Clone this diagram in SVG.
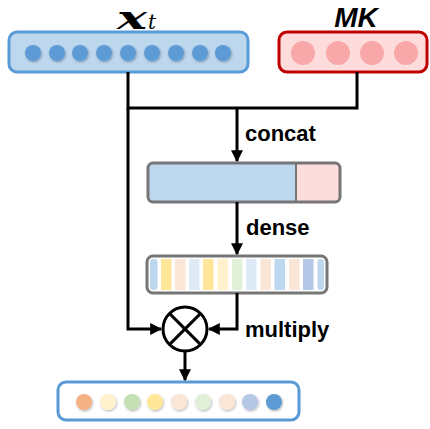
<svg xmlns="http://www.w3.org/2000/svg" width="430" height="429" viewBox="0 0 430 429">
  <defs>
    <marker id="arrow" viewBox="0 0 10 10" refX="9" refY="5" markerWidth="4" markerHeight="4" orient="auto" markerUnits="strokeWidth">
      <path d="M0,0 L10,5 L0,10 Z" fill="#000"/>
    </marker>
    <filter id="shadow" x="-30%" y="-30%" width="160%" height="160%">
      <feDropShadow dx="0.8" dy="1.2" stdDeviation="0.8" flood-color="#000" flood-opacity="0.3"/>
    </filter>
  </defs>
  <style>
    .lbl { font-family: "Liberation Sans", Arial, sans-serif; font-weight: bold; font-size: 22px; fill: #000; }
    .wire { fill: none; stroke: #000; stroke-width: 3; }
    .dot { filter: url(#shadow); }
  </style>
  <rect width="430" height="429" fill="#fff"/>

  <!-- input sequence x_t -->
  <g id="xt">
    <text x="117" y="29" font-family="DejaVu Serif, serif" font-weight="bold" font-style="italic" font-size="31" textLength="30" lengthAdjust="spacingAndGlyphs">x</text>
    <text x="148" y="29" font-family="DejaVu Serif, serif" font-style="italic" font-size="20">t</text>
    <rect x="9" y="32" width="239" height="40" rx="8" fill="#bdd7ee" stroke="#5b9bd5" stroke-width="3"/>
    <g fill="#5b9bd5" class="dot">
      <circle cx="33" cy="53" r="8"/>
      <circle cx="57" cy="53" r="8"/>
      <circle cx="80" cy="53" r="8"/>
      <circle cx="104" cy="53" r="8"/>
      <circle cx="128" cy="53" r="8"/>
      <circle cx="152" cy="53" r="8"/>
      <circle cx="176" cy="53" r="8"/>
      <circle cx="200" cy="53" r="8"/>
      <circle cx="223" cy="53" r="8"/>
    </g>
  </g>

  <!-- memory key MK -->
  <g id="mk">
    <text x="356" y="27" text-anchor="middle" font-family="Liberation Sans, Arial, sans-serif" font-weight="bold" font-style="italic" font-size="28">MK</text>
    <rect x="279" y="32" width="148" height="40" rx="8" fill="#ffdcdc" stroke="#c00000" stroke-width="3"/>
    <g fill="#f8a8a8">
      <circle cx="303" cy="53" r="12"/>
      <circle cx="338" cy="53" r="12"/>
      <circle cx="372" cy="53" r="12"/>
      <circle cx="406" cy="53" r="12"/>
    </g>
  </g>

  <!-- concatenated vector -->
  <g id="concat">
    <rect x="148" y="163" width="192" height="39" rx="5" fill="#bdd7ee"/>
    <path d="M296,163 H335 A5,5 0 0 1 340,168 V197 A5,5 0 0 1 335,202 H296 Z" fill="#fddcdc"/>
    <line x1="296" y1="163" x2="296" y2="202" stroke="#767676" stroke-width="2"/>
    <rect x="148" y="163" width="192" height="39" rx="5" fill="none" stroke="#767676" stroke-width="3"/>
  </g>

  <!-- dense output (gate weights) -->
  <g id="dense">
    <rect x="147" y="256" width="180" height="37" rx="6" fill="#fff" stroke="#767676" stroke-width="3"/>
    <rect x="150" y="259" width="7.5" height="31" rx="3" fill="#bdd7ee"/>
    <rect x="161" y="259" width="10.5" height="31" fill="#ffe699"/>
    <rect x="175" y="259" width="10.5" height="31" fill="#fbe5d6"/>
    <rect x="189" y="259" width="10.5" height="31" fill="#deebf7"/>
    <rect x="203" y="259" width="10.5" height="31" fill="#ffe699"/>
    <rect x="217.5" y="259" width="10.5" height="31" fill="#fff2cc"/>
    <rect x="232" y="259" width="10.5" height="31" fill="#e2f0d9"/>
    <rect x="246" y="259" width="10.5" height="31" fill="#deebf7"/>
    <rect x="260.5" y="259" width="10.5" height="31" fill="#fbe5d6"/>
    <rect x="274.5" y="259" width="10.5" height="31" fill="#bdd7ee"/>
    <rect x="289" y="259" width="10.5" height="31" fill="#fbe5d6"/>
    <rect x="303" y="259" width="10.5" height="31" fill="#b4c7e7"/>
    <rect x="317.5" y="259" width="6.5" height="31" rx="3" fill="#bdd7ee"/>
  </g>

  <!-- element-wise multiply -->
  <g id="multiply">
    <circle cx="185" cy="329" r="22" fill="#fff" stroke="#000" stroke-width="3"/>
    <line x1="169.4" y1="313.4" x2="200.6" y2="344.6" stroke="#000" stroke-width="3"/>
    <line x1="200.6" y1="313.4" x2="169.4" y2="344.6" stroke="#000" stroke-width="3"/>
  </g>

  <!-- gated output -->
  <g id="output">
    <rect x="58" y="382" width="241" height="38" rx="8" fill="#fff" stroke="#5b9bd5" stroke-width="3"/>
    <g class="dot">
      <circle cx="84" cy="402" r="8" fill="#f4b183"/>
      <circle cx="108" cy="402" r="8" fill="#fff2cc"/>
      <circle cx="132" cy="402" r="8" fill="#c5e0b4"/>
      <circle cx="155" cy="402" r="8" fill="#ffe699"/>
      <circle cx="179" cy="402" r="8" fill="#fbe5d6"/>
      <circle cx="203" cy="402" r="8" fill="#e2f0d9"/>
      <circle cx="227" cy="402" r="8" fill="#fbe5d6"/>
      <circle cx="250" cy="402" r="8" fill="#b4c7e7"/>
      <circle cx="274" cy="402" r="8" fill="#5b9bd5"/>
    </g>
  </g>

  <!-- connectors -->
  <g id="connectors">
    <path class="wire" d="M128,72 V108 H357 V72"/>
    <path class="wire" d="M237,108 V161" marker-end="url(#arrow)"/>
    <path class="wire" d="M237,202 V254" marker-end="url(#arrow)"/>
    <path class="wire" d="M128,108 V329 H161" marker-end="url(#arrow)"/>
    <path class="wire" d="M237,293 V329 H209" marker-end="url(#arrow)"/>
    <path class="wire" d="M185,351 V380" marker-end="url(#arrow)"/>
  </g>

  <!-- edge labels -->
  <g id="labels">
    <text class="lbl" x="245" y="141">concat</text>
    <text class="lbl" x="246" y="235">dense</text>
    <text class="lbl" x="245" y="337">multiply</text>
  </g>
</svg>
